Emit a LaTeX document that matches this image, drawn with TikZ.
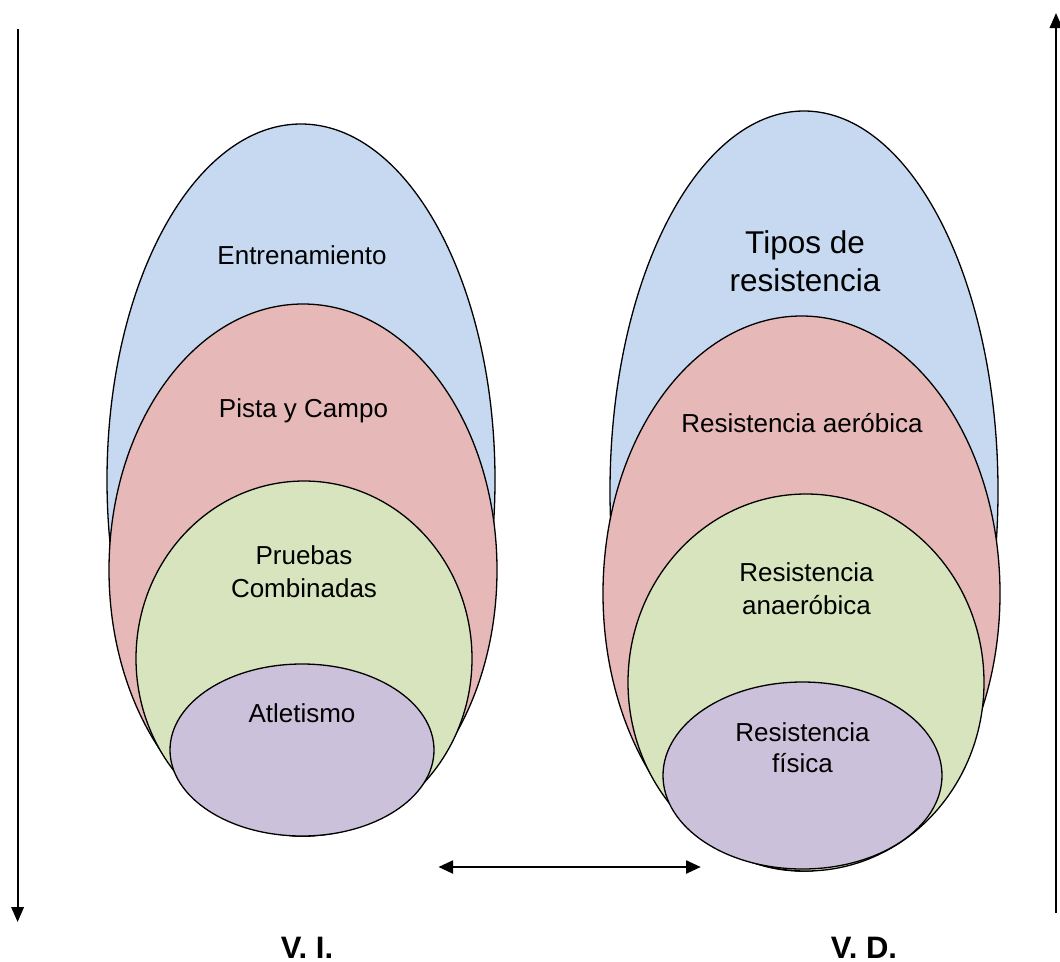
\documentclass[tikz,border=0pt]{standalone}
\usepackage{fontspec}
\setmainfont{Liberation Sans}
\usetikzlibrary{shapes.geometric,arrows.meta}
\definecolor{cblue}{HTML}{C6D9F1}
\definecolor{cred}{HTML}{E6B9B8}
\definecolor{cgreen}{HTML}{D7E4BD}
\definecolor{cpurple}{HTML}{CCC1DA}
\begin{document}
\begin{tikzpicture}[x=1pt,y=-1pt,
  oval/.style={ellipse, draw=black, line width=1.3pt, inner sep=0pt},
  lbl/.style={anchor=base, font=\fontsize{26}{32}\selectfont, inner sep=0pt},
  big/.style={anchor=base, font=\fontsize{31.5}{38}\selectfont, inner sep=0pt},
  var/.style={anchor=base, font=\bfseries\fontsize{31}{37}\selectfont, inner sep=0pt},
  axis/.style={line width=2pt, -{Triangle[length=15pt,width=12.5pt]}},
  both/.style={line width=1.8pt, {Triangle[length=14.5pt,width=13pt]}-{Triangle[length=14.5pt,width=13pt]}},
]
\useasboundingbox (0,0) rectangle (1060,961);

% left group
\node[oval, fill=cblue, minimum width=388pt, minimum height=712pt] (lb) at (301,480) {};
\node[oval, fill=cred, minimum width=388pt, minimum height=532pt] (lr) at (303,570) {};
\node[oval, fill=cgreen, minimum width=336pt, minimum height=355pt] (lg) at (304,658.5) {};
\node[oval, fill=cpurple, minimum width=264pt, minimum height=172pt] (lp) at (302,750) {};

% right group
\node[oval, fill=cblue, minimum width=388pt, minimum height=760pt] (rb) at (804,491) {};
\node[oval, fill=cred, minimum width=397pt, minimum height=555pt] (rr) at (801.5,593.5) {};
\node[oval, fill=cgreen, minimum width=356pt, minimum height=377pt] (rg) at (806,682.5) {};
\node[oval, fill=cpurple, minimum width=279pt, minimum height=187pt] (rp) at (802.5,775.5) {};

% left labels
\node[lbl] (t1) at (302,264) {Entrenamiento};
\node[lbl] (t2) at (303.5,417.5) {Pista y Campo};
\node[lbl] (t3a) at (304,564.5) {Pruebas};
\node[lbl] (t3b) at (304,597) {Combinadas};
\node[lbl] (t4) at (302,722) {Atletismo};

% right labels
\node[big] (u1a) at (805,253.5) {Tipos de};
\node[big] (u1b) at (805,291) {resistencia};
\node[lbl] (u2) at (802,432) {Resistencia aeróbica};
\node[lbl] (u3a) at (806.5,581) {Resistencia};
\node[lbl] (u3b) at (806.5,614) {anaeróbica};
\node[lbl] (u4a) at (802.5,741) {Resistencia};
\node[lbl] (u4b) at (802.5,772) {física};

% variable labels
\node[var] (vi) at (307,958) {V. I.};
\node[var] (vd) at (864,958) {V. D.};

% arrows
\coordinate (la1) at (17.6,28.7);
\coordinate (la2) at (17.6,922);
\draw[axis] (la1) -- (la2);
\coordinate (ra1) at (1056,913);
\coordinate (ra2) at (1056,13);
\draw[axis] (ra1) -- (ra2);
\coordinate (da1) at (438.5,867);
\coordinate (da2) at (700.7,867);
\draw[both] (da1) -- (da2);
\end{tikzpicture}
\end{document}
